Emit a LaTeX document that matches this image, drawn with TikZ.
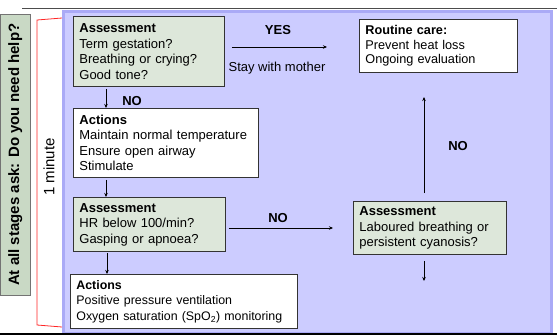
\documentclass[tikz,border=0pt]{standalone}
\usepackage{fontspec}
\setmainfont{Liberation Sans}
\usetikzlibrary{calc,arrows.meta}
\definecolor{panelblue}{HTML}{CCCCFF}
\definecolor{panelrim}{HTML}{AAAAF6}
\definecolor{assessgreen}{HTML}{DDE7DA}
\definecolor{sidegreen}{HTML}{C9D9C5}

\begin{document}
\begin{tikzpicture}[x=1pt,y=-1pt,
	every node/.style={font=\fontsize{13}{15.5}\selectfont},
	stepbox/.style={draw=black!80,line width=0.8pt,anchor=north west,align=left,inner xsep=6pt,inner ysep=3pt},
	assess/.style={stepbox,fill=assessgreen},
	action/.style={stepbox,fill=white},
	arr/.style={-{Stealth[length=4pt,width=3.5pt]},line width=0.7pt},
	lbl/.style={font=\fontsize{13}{15}\selectfont\bfseries}]
\useasboundingbox (0,0) rectangle (557,335);

% frame
\draw[black!70,line width=1pt] (22,8) -- (557,8);
\draw[draw=panelrim,fill=panelblue,line width=3pt] (63.5,11.5) rectangle (551.5,333);
\draw[black,line width=2.5pt] (0,334) -- (557,334);

% left side
\node[draw=black!55,fill=sidegreen,minimum width=30pt,minimum height=281pt,anchor=north west,inner sep=0pt] (ask) at (0,14) {};
\node[rotate=90,font=\fontsize{15}{17}\selectfont\bfseries] (asktext) at (ask.center) {At all stages ask: Do you need help?};
\draw[red!85,line width=0.8pt] (62,18) -- (37,20) -- (37,325) -- (62,327);
\node[rotate=90,font=\fontsize{15}{17}\selectfont] (minute) at (49,167) {1 minute};

% boxes
\node[assess,minimum width=151pt,minimum height=70pt,text width=139pt] (a1) at (73,16)
	{\textbf{Assessment}\\Term gestation?\\Breathing or crying?\\Good tone?};
\node[action,minimum width=185pt,minimum height=69pt,text width=173pt] (ac1) at (73,108)
	{\textbf{Actions}\\Maintain normal temperature\\Ensure open airway\\Stimulate};
\node[assess,minimum width=152pt,minimum height=54pt,text width=140pt] (a2) at (73,197)
	{\textbf{Assessment}\\HR below 100/min?\\Gasping or apnoea?};
\node[action,minimum width=227pt,minimum height=54pt,text width=215pt,font=\fontsize{12.4}{15.5}\selectfont] (ac2) at (70,274)
	{\textbf{Actions}\\Positive pressure ventilation\\Oxygen saturation (SpO\textsubscript{2}) monitoring};
\node[action,minimum width=158pt,minimum height=53pt,text width=146pt,font=\fontsize{12.7}{14.8}\selectfont] (care) at (359,19)
	{\textbf{Routine care:}\\Prevent heat loss\\Ongoing evaluation};
\node[assess,minimum width=153pt,minimum height=53pt,text width=141pt] (a3) at (353,201)
	{\textbf{Assessment}\\Laboured breathing or\\persistent cyanosis?};

% free arrow ends
\coordinate (yesend) at (327,47);
\coordinate (noend) at (333,228);
\coordinate (upend) at (424,97);
\coordinate (downend) at (424,281);

% connectors
\draw[arr] ([xshift=33pt,yshift=-2pt]a1.south west) -- ([xshift=33pt]a1.south west |- ac1.north);
\draw[arr] ([xshift=33pt,yshift=-2pt]ac1.south west) -- ([xshift=33pt]ac1.south west |- a2.north);
\draw[arr] ([xshift=34pt,yshift=-1pt]a2.south west) -- ([xshift=37pt]ac2.north west);
\draw[arr] ([xshift=7pt]a1.east |- yesend) -- (yesend);
\draw[arr] ([xshift=3pt]a2.east |- noend) -- (noend);
\draw[arr] ([yshift=8pt]a3.north -| upend) -- (upend);
\draw[arr] ([yshift=-6pt]a3.south -| downend) -- (downend);

% labels
\node[lbl] (yes) at (278,30) {YES};
\node (stay) at (277,68) {Stay with mother};
\node[lbl] (no1) at (132,101) {NO};
\node[lbl] (no2) at (278,218) {NO};
\node[lbl] (no3) at (458,146) {NO};
\end{tikzpicture}
\end{document}
